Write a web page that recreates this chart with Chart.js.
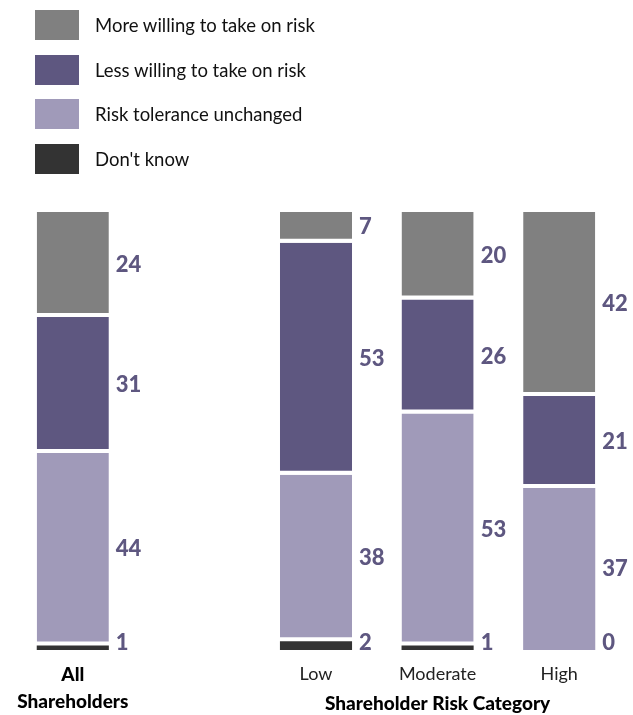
<!DOCTYPE html>
<html>
<head>
<meta charset="utf-8">
<script src="https://cdn.jsdelivr.net/npm/chart.js@4.4.1/dist/chart.umd.min.js"></script>
<style>
  body { margin: 0; background: #fff; }
  #wrap { position: relative; width: 633px; height: 715px; }
  #graph { position: absolute; left: 0; top: 0; }
  #legend { position: absolute; left: 35px; top: 10px; font-family: Lato, sans-serif; font-size: 18.5px; color: #111; }
  .item { display: flex; align-items: center; height: 30px; margin-bottom: 14.5px; }
  .box { width: 44px; height: 30px; margin-right: 16px; }
</style>
</head>
<body>
<div id="wrap">
  <canvas id="graph" width="633" height="715"></canvas>
  <div id="legend"></div>
</div>
<script>
// -------------------------
// DATA
// -------------------------
const categories = [["All", "Shareholders"], "", "Low", "Moderate", "High"];
const groupTitle = "Shareholder Risk Category";

const moreWilling = [24, null, 7, 20, 42];
const lessWilling = [31, null, 53, 26, 21];
const unchanged   = [44, null, 38, 53, 37];
const dontKnow    = [1, null, 2, 1, 0];

const seriesNames  = ["More willing to take on risk", "Less willing to take on risk", "Risk tolerance unchanged", "Don't know"];
const seriesColors = ["#808080", "#5e5780", "#a09ab9", "#333333"];

const LABEL_COLOR = "#5e5780";
const FONT = "Lato, sans-serif";

// -------------------------
// PLUGINS
// -------------------------
const valueLabels = {
  id: "valueLabels",
  afterDatasetsDraw(chart) {
    const ctx = chart.ctx;
    ctx.save();
    ctx.font = "900 22px " + FONT;
    ctx.fillStyle = LABEL_COLOR;
    ctx.textAlign = "left";
    ctx.textBaseline = "middle";
    chart.data.datasets.forEach((ds, i) => {
      chart.getDatasetMeta(i).data.forEach((bar, j) => {
        const v = ds.data[j];
        if (v === null) return;
        const y = Math.min((bar.y + bar.base) / 2, bar.base - 7);
        ctx.fillText(String(v), bar.x + bar.width / 2 + 7, y);
      });
    });
    ctx.restore();
  }
};

const groupLabel = {
  id: "groupLabel",
  afterDraw(chart) {
    const ctx = chart.ctx;
    const x = chart.scales.x.getPixelForValue(3);
    ctx.save();
    ctx.font = "900 19px " + FONT;
    ctx.fillStyle = "#000";
    ctx.textAlign = "center";
    ctx.textBaseline = "middle";
    ctx.fillText(groupTitle, x, 704);
    ctx.restore();
  }
};

// -------------------------
// INIT CHART
// -------------------------
function gapBorder(below) {
  // white gap under each segment, except when nothing sits below it
  return (c) => {
    const nothingBelow = below.every(arr => !arr[c.dataIndex]);
    return { top: 0, left: 0, right: 0, bottom: nothingBelow ? 0 : 4 };
  };
}

function initChart() {
  const ctx = document.getElementById("graph").getContext("2d");

  const datasets = [
    { label: seriesNames[3], data: dontKnow,    backgroundColor: seriesColors[3], borderWidth: 0 },
    { label: seriesNames[2], data: unchanged,   backgroundColor: seriesColors[2], borderWidth: gapBorder([dontKnow]) },
    { label: seriesNames[1], data: lessWilling, backgroundColor: seriesColors[1], borderWidth: gapBorder([dontKnow, unchanged]) },
    { label: seriesNames[0], data: moreWilling, backgroundColor: seriesColors[0], borderWidth: gapBorder([dontKnow, unchanged, lessWilling]) }
  ].map(d => Object.assign(d, {
    borderColor: "#ffffff",
    borderSkipped: false,
    barPercentage: 0.593,
    categoryPercentage: 1
  }));

  const chart = new Chart(ctx, {
    type: "bar",
    data: { labels: categories, datasets: datasets },
    options: {
      responsive: false,
      animation: false,
      layout: { padding: { top: 212, left: 12, right: 13, bottom: 0 } },
      plugins: { legend: { display: false }, tooltip: { enabled: false } },
      scales: {
        x: {
          stacked: true,
          grid: { display: false },
          border: { display: false },
          afterFit: (scale) => { scale.height = 65; },
          ticks: {
            padding: 3,
            color: (c) => c.index === 0 ? "#000" : "#222",
            font: (c) => ({ family: FONT, size: c.index === 0 ? 19 : 18, weight: c.index === 0 ? "900" : "normal", lineHeight: 1.42 })
          }
        },
        y: { stacked: true, display: false, min: 0, max: 100 }
      }
    },
    plugins: [valueLabels, groupLabel]
  });

  // legend as html, top series first
  const legend = document.getElementById("legend");
  seriesNames.forEach((name, i) => {
    const row = document.createElement("div");
    row.className = "item";
    row.innerHTML = '<div class="box" style="background:' + seriesColors[i] + '"></div><span>' + name + '</span>';
    legend.appendChild(row);
  });
  return chart;
}

initChart();
</script>
</body>
</html>
